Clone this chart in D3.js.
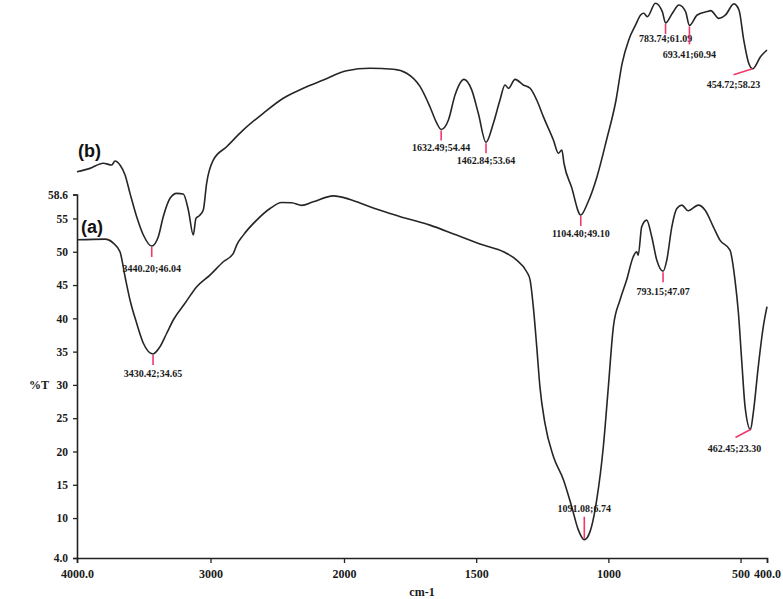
<!DOCTYPE html>
<html>
<head>
<meta charset="utf-8">
<script src="https://cdn.jsdelivr.net/npm/d3@7"></script>
<style>
  body { margin: 0; background: #fff; }
  svg text { font-family: "Liberation Serif", "Times New Roman", serif; }
  svg text.series { font-family: "Liberation Sans", Arial, sans-serif; }
</style>
</head>
<body>
<div id="ftir"></div>
<script>
// spectrum (a) - wavenumber (cm-1) and %T
const wavenumbersA = [4000, 3790, 3728, 3678, 3640, 3603, 3553, 3503, 3430.42, 3378, 3328, 3279, 3191, 3103,
  3004, 2904, 2829, 2804, 2754, 2654, 2554, 2467, 2392, 2317, 2230, 2080, 1977, 1902, 1826, 1763, 1675,
  1574, 1473, 1397, 1347, 1309, 1296, 1284, 1271, 1259, 1240, 1208, 1170, 1139, 1114, 1091.08, 1069,
  1044, 1019, 1000, 981, 956, 931, 906, 893, 887, 874, 855, 836, 817, 793.15, 779, 760, 741, 722, 698,
  660, 634, 603, 578, 540, 521, 508, 495, 483, 462.45, 452, 433, 414, 400];
const transmittanceA = [51.8, 51.9, 51.3, 50.0, 46.25, 42.75, 39.26, 36.26, 34.65, 35.75, 37.76, 39.75, 42.26,
  44.75, 46.5, 48.5, 49.76, 51.0, 52.5, 54.76, 56.5, 57.4, 57.35, 56.96, 57.5, 58.4, 57.86, 56.75, 55.76,
  55.0, 54.0, 52.5, 51.0, 50.0, 48.75, 47.0, 45.75, 41.75, 35.75, 29.75, 24.26, 19.25, 15.76, 11.75, 8.26,
  6.74, 8.0, 12.75, 20.75, 29.75, 38.75, 42.75, 45.75, 49.25, 50.0, 49.5, 53.75, 54.75, 52.25, 48.75,
  47.07, 48.75, 53.75, 56.5, 57.0, 56.15, 57.0, 56.25, 53.75, 51.75, 50.25, 45.75, 40.76, 33.26, 26.75,
  23.3, 25.76, 32.75, 38.75, 41.75];

// spectrum (b) - drawn shifted up on its own %T scale
const wavenumbersB = [4000, 3903, 3803, 3740, 3715, 3678, 3640, 3603, 3553, 3503, 3440.20, 3391, 3354, 3303,
  3253, 3204, 3166, 3129, 3109, 3084, 3054, 3029, 2979, 2879, 2754, 2605, 2455, 2305, 2155, 1990, 1902,
  1813, 1763, 1712, 1675, 1649, 1632.49, 1605, 1580, 1546, 1517, 1492, 1462.84, 1435, 1410, 1391, 1378,
  1353, 1322, 1296, 1271, 1246, 1208, 1189, 1176, 1168, 1140, 1104.40, 1079, 1043, 1007, 971, 948, 923,
  897, 878, 866, 853, 822, 796, 783.74, 758, 733, 708, 693.41, 664, 626, 613, 582, 557, 525, 506, 488,
  469, 454.72, 424, 400];
const transmittanceB = [51.8, 52.01, 52.33, 52.22, 52.47, 52.22, 51.6, 50.45, 48.99, 47.85, 47.16, 47.74,
  48.99, 50.14, 50.45, 50.41, 49.41, 47.85, 48.89, 49.05, 49.41, 51.08, 52.53, 53.36, 54.41, 55.45, 56.39,
  57.01, 57.53, 58.11, 58.26, 58.2, 57.95, 57.11, 55.86, 54.83, 54.44, 55.03, 56.59, 57.57, 56.91, 55.45,
  53.64, 54.83, 56.28, 57.22, 57.01, 57.57, 57.22, 57.01, 56.28, 55.24, 53.78, 52.95, 53.16, 52.33, 50.87,
  49.10, 49.83, 51.49, 53.78, 56.28, 58.57, 60.03, 60.97, 61.59, 61.7, 61.48, 62.32, 61.8, 61.09, 61.7,
  62.21, 61.8, 60.94, 61.59, 61.8, 61.86, 61.38, 61.59, 62.28, 61.9, 60.03, 58.57, 58.23, 58.99, 59.4];

// labelled peaks [wavenumber, %T]
const peaksA = [[3430.42, 34.65], [1091.08, 6.74], [793.15, 47.07], [462.45, 23.30]];
const peaksB = [[3440.20, 46.04], [1632.49, 54.44], [1462.84, 53.64], [1104.40, 49.10],
  [783.74, 61.09], [693.41, 60.94], [454.72, 58.23]];

const xTickValues = [4000, 3000, 2000, 1500, 1000, 500, 400];
const yTickValues = [4, 10, 15, 20, 25, 30, 35, 40, 45, 50, 55, 58.6];

const width = 783, height = 599;
const lineColor = "#262626", markColor = "#ee3a6b";

const svg = d3.select("#ftir")
    .append("svg")
    .attr("width", width)
    .attr("height", height);

// split axis: 4000-2000 is compressed compared with 2000-400
const xScale = d3.scaleLinear()
    .domain([4000, 2000, 400])
    .range([77, 344, 767]);

const yScale = d3.scaleLinear()
    .domain([4, 58.6])
    .range([558, 194.5]);

const yScaleB = d3.scaleLinear()
    .domain([46, 62])
    .range([264.6, 8.4]);

// axes
const xAxis = svg.append("g")
    .attr("transform", "translate(0,558)")
    .call(d3.axisBottom(xScale)
        .tickValues(xTickValues)
        .tickSize(5)
        .tickPadding(6)
        .tickFormat((d) => (d == 4000 || d == 400) ? d.toFixed(1) : d));

const yAxis = svg.append("g")
    .attr("transform", "translate(77,0)")
    .call(d3.axisLeft(yScale)
        .tickValues(yTickValues)
        .tickSize(4)
        .tickPadding(5)
        .tickFormat((d) => (d == 4 || d == 58.6) ? d.toFixed(1) : d));

[xAxis, yAxis].forEach((g) => {
    g.select(".domain").attr("stroke", "#222").attr("stroke-width", 1.6);
    g.selectAll(".tick line").attr("stroke", "#222").attr("stroke-width", 1.3);
    g.selectAll(".tick text")
        .attr("fill", "#1a1a1a")
        .attr("font-weight", "bold");
});
xAxis.selectAll(".tick text").attr("font-size", "12px");
yAxis.selectAll(".tick text").attr("font-size", "11.5px");

svg.append("text")
    .attr("x", 422).attr("y", 596)
    .attr("text-anchor", "middle")
    .attr("font-size", "12px").attr("font-weight", "bold").attr("fill", "#1a1a1a")
    .text("cm-1");

svg.append("text")
    .attr("x", 39).attr("y", 389)
    .attr("text-anchor", "middle")
    .attr("font-size", "12px").attr("font-weight", "bold").attr("fill", "#1a1a1a")
    .text("%T");

// curves
const lineA = d3.line()
    .x((d, i) => xScale(wavenumbersA[i]))
    .y((d) => yScale(d))
    .curve(d3.curveMonotoneX);

const lineB = d3.line()
    .x((d, i) => xScale(wavenumbersB[i]))
    .y((d) => yScaleB(d))
    .curve(d3.curveMonotoneX);

svg.append("path")
    .attr("d", lineA(transmittanceA))
    .attr("fill", "none")
    .attr("stroke", lineColor)
    .attr("stroke-width", 1.6);

svg.append("path")
    .attr("d", lineB(transmittanceB))
    .attr("fill", "none")
    .attr("stroke", lineColor)
    .attr("stroke-width", 1.6);

// series names
svg.append("text")
    .attr("class", "series")
    .attr("x", 78).attr("y", 157)
    .attr("font-size", "18px").attr("font-weight", "bold").attr("fill", "#111")
    .text("(b)");

svg.append("text")
    .attr("class", "series")
    .attr("x", 81).attr("y", 233)
    .attr("font-size", "18px").attr("font-weight", "bold").attr("fill", "#111")
    .text("(a)");

// peak marker placement (offsets from the curve point)
const defaultMark = { x2: 0, y1: 1, y2: 11, tx: 0, ty: 22 };
const markLayout = {
    "3430.42": { ty: 23 },
    "1091.08": { y1: -1, y2: -23, ty: -28 },
    "793.15": { ty: 24 },
    "462.45": { y1: 0, x2: -15, y2: 8, tx: -16, ty: 22 },
    "3440.20": { ty: 26 },
    "783.74": { ty: 19 },
    "693.41": { y2: 19, ty: 33 },
    "454.72": { y1: 0, x2: -19, y2: 6, tx: -19, ty: 19 }
};

function drawPeaks(peaks, wns, vals, yS) {
    peaks.forEach(([wn, t]) => {
        const i = wns.indexOf(wn);
        const px = xScale(wn), py = yS(vals[i]);
        const m = Object.assign({}, defaultMark, markLayout[wn.toFixed(2)] || {});
        svg.append("line")
            .attr("x1", px).attr("y1", py + m.y1)
            .attr("x2", px + m.x2).attr("y2", py + m.y2)
            .attr("stroke", markColor)
            .attr("stroke-width", 1.6);
        svg.append("text")
            .attr("x", px + m.tx).attr("y", py + m.ty)
            .attr("text-anchor", "middle")
            .attr("font-size", "10px").attr("font-weight", "bold")
            .attr("fill", "#1a1a1a")
            .text(wn.toFixed(2) + ";" + t.toFixed(2));
    });
}

drawPeaks(peaksA, wavenumbersA, transmittanceA, yScale);
drawPeaks(peaksB, wavenumbersB, transmittanceB, yScaleB);
</script>
</body>
</html>
